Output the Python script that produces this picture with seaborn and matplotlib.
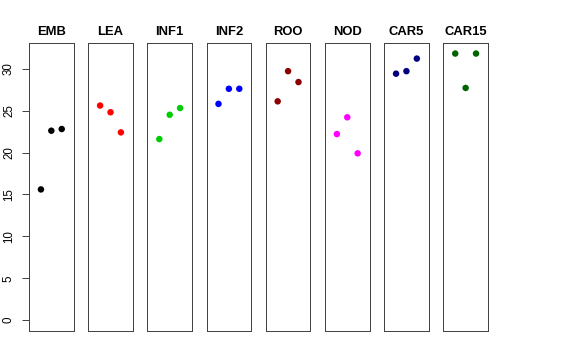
import matplotlib
matplotlib.use("Agg")
import matplotlib.pyplot as plt
import pandas as pd
import seaborn as sns

# Panel names and the three replicate values per panel
tissues = ["EMB", "LEA", "INF1", "INF2", "ROO", "NOD", "CAR5", "CAR15"]
rep1 = [15.6, 25.6, 21.6, 25.8, 26.1, 22.2, 29.4, 31.8]
rep2 = [22.6, 24.8, 24.5, 27.6, 29.7, 24.2, 29.7, 27.7]
rep3 = [22.8, 22.4, 25.3, 27.6, 28.4, 19.9, 31.2, 31.8]
colors = ["black", "red", "#00CD00", "blue", "#8B0000", "magenta", "#000080", "#006400"]
y_ticks = [0, 5, 10, 15, 20, 25, 30]

sns.set_style("white")
plt.rcParams["font.family"] = ["Liberation Sans", "DejaVu Sans"]
plt.rcParams["text.color"] = "black"
plt.rcParams["ytick.color"] = "black"

rows = []
for i, t in enumerate(tissues):
    for rep, vals in enumerate([rep1, rep2, rep3], start=1):
        rows.append({"tissue": t, "rep": rep, "value": vals[i]})
df = pd.DataFrame(rows)

fig, axes = plt.subplots(1, len(tissues), figsize=(8, 5), dpi=72, sharey=True)
fig.subplots_adjust(left=0.0503, right=0.8472, top=0.8806, bottom=0.0806, wspace=0.324)

for ax, t, c in zip(axes, tissues, colors):
    sub = df[df["tissue"] == t]
    sns.scatterplot(data=sub, x="rep", y="value", color=c, s=42, edgecolor="none", ax=ax)
    ax.set_xlim(-0.15, 4.15)
    ax.set_ylim(-1.28, 33.06)
    ax.set_title(t, fontsize=13, fontweight="bold", pad=8, color="black")
    ax.set_xlabel("")
    ax.set_ylabel("")
    ax.set_xticks([])
    for sp in ax.spines.values():
        sp.set_visible(True)
        sp.set_color("#444444")
        sp.set_linewidth(1.0)

ax0 = axes[0]
ax0.set_yticks(y_ticks)
ax0.tick_params(axis="y", left=True, length=7, width=1, color="#444444",
                labelcolor="black", labelsize=11.5, pad=7)
for lab in ax0.get_yticklabels():
    lab.set_rotation(90)
    lab.set_va("center")
for ax in axes[1:]:
    ax.tick_params(axis="y", left=False, labelleft=False)

fig.savefig("out.png", dpi=72)
plt.close(fig)
